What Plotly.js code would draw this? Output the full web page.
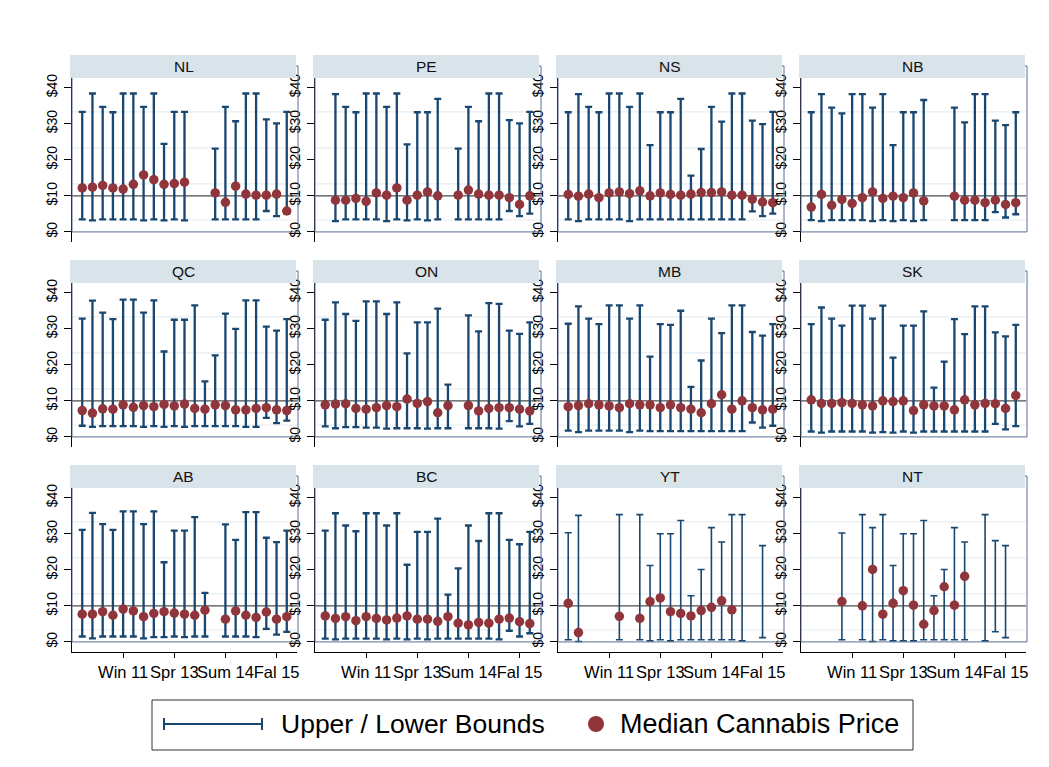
<!DOCTYPE html>
<html><head><meta charset="utf-8">
<script src="https://cdn.plot.ly/plotly-3.0.1.min.js"></script>
<style>html,body{margin:0;padding:0;background:#fff;}#chart{width:1049px;height:767px;}</style>
</head><body><div id="chart"></div>
<script>
const provinces = ["NL","PE","NS","NB","QC","ON","MB","SK","AB","BC","YT","NT"];
const periods = [1,2,3,4,5,6,7,8,9,10,11,12,13,14,15,16,17,18,19,20,21];
const tickPos = [5,10,15,20];
const tickLabels = ["Win 11","Spr 13","Sum 14","Fal 15"];
const yTickVals = [0,10,20,30,40];
const yTickText = ["$0","$10","$20","$30","$40"];
const refValue = 10;
const _ = null;

const nlUpper  = [33.3,38.4,34.7,33.2,38.4,38.4,34.7,38.4,24.4,33.3,33.3,_,_,23.1,34.7,30.7,38.4,38.4,31.2,30.1,33.3];
const nlLower  = [3.5,3.2,3.5,3.5,3.5,3.5,3.2,3.5,3.2,3.5,3.2,_,_,3.5,3.5,3.5,3.5,3.5,5.8,4.4,5.1];
const nlMedian = [12.2,12.4,12.9,12.2,11.9,13.2,15.8,14.5,13.2,13.4,13.8,_,_,10.8,8.2,12.7,10.5,10.2,10.2,10.5,5.8];

const peUpper  = [_,38.2,34.7,33.2,38.4,38.4,34.7,38.4,24.3,33.2,33.2,36.9,_,23.1,34.7,30.7,38.4,38.4,31.0,30.1,33.3];
const peLower  = [_,3.0,3.5,3.5,3.5,3.5,3.0,3.5,3.2,3.5,3.2,3.5,_,3.5,3.5,3.5,3.5,3.5,5.8,4.4,5.1];
const peMedian = [_,8.8,8.8,9.3,8.5,10.8,10.2,12.2,8.8,10.2,11.1,10.0,_,10.2,11.6,10.5,10.2,10.2,9.5,7.6,10.0];

const nsUpper  = [33.2,38.2,34.7,33.2,38.4,38.4,34.7,38.4,24.1,33.2,33.2,36.9,15.6,23.0,34.7,30.6,38.4,38.4,30.9,29.9,33.3];
const nsLower  = [3.5,3.0,3.5,3.5,3.5,3.5,3.0,3.5,3.5,3.5,3.5,3.5,3.5,3.5,3.5,3.5,3.5,3.5,5.7,4.4,5.1];
const nsMedian = [10.4,9.9,10.5,9.5,10.8,11.1,10.6,11.4,10.0,10.8,10.4,10.2,10.5,10.9,10.9,11.1,10.2,10.2,9.1,8.3,8.1];

const nbUpper  = [33.2,38.2,34.5,32.9,38.2,38.2,34.5,38.2,24.1,33.2,33.2,36.6,_,_,34.5,30.4,38.2,38.2,30.9,29.6,33.2];
const nbLower  = [3.25,3.0,3.25,3.25,3.25,3.25,3.0,3.25,3.0,3.25,3.0,3.25,_,_,3.25,3.25,3.25,3.25,5.5,4.0,4.9];
const nbMedian = [6.9,10.4,7.4,9.0,7.9,9.5,11.1,9.3,9.9,9.5,10.8,8.6,_,_,9.9,8.8,8.8,8.1,8.8,7.6,8.1];

const qcUpper  = [32.8,37.8,34.5,32.7,38.1,38.1,34.5,37.9,23.7,32.5,32.5,36.5,15.4,22.6,34.2,30.0,37.9,37.9,30.6,29.5,32.7];
const qcLower  = [3.1,2.8,3.0,3.0,3.0,3.0,2.8,3.0,2.8,3.0,2.8,3.0,3.0,3.0,3.0,3.0,2.8,2.8,5.3,3.8,4.5];
const qcMedian = [7.3,6.6,7.8,7.7,8.9,8.2,8.7,8.4,9.0,8.6,9.1,7.9,7.7,8.9,8.7,7.5,7.5,7.9,8.1,7.5,7.3];

const onUpper  = [32.5,37.3,34.1,32.2,37.6,37.6,34.1,37.3,23.2,31.8,31.8,35.6,14.5,_,33.7,29.3,37.1,36.9,29.5,28.6,31.8];
const onLower  = [2.9,2.4,2.7,2.7,2.6,2.6,2.3,2.4,2.4,2.4,2.3,2.4,2.4,_,2.4,2.4,2.4,2.3,4.4,2.9,3.6];
const onMedian = [8.9,9.1,9.2,7.9,7.7,8.1,8.7,8.4,10.5,9.3,9.8,6.7,8.7,_,8.7,7.2,7.9,8.1,8.1,7.7,7.2];

const mbUpper  = [31.4,36.2,32.8,31.3,36.5,36.5,32.8,36.5,22.3,31.3,31.1,35.0,13.9,21.2,32.8,28.8,36.5,36.5,29.1,28.1,31.3];
const mbLower  = [1.75,1.3,1.75,1.75,1.75,1.75,1.3,1.75,1.6,1.6,1.6,1.6,1.6,1.6,1.6,1.6,1.6,1.6,4.0,2.6,3.1];
const mbMedian = [8.4,8.7,9.2,8.9,8.6,8.1,9.2,8.9,8.9,8.1,8.9,8.1,7.7,6.7,9.2,11.7,7.7,10.0,8.1,7.5,7.7];

const skUpper  = [31.3,35.9,32.8,30.9,36.4,36.4,32.8,36.4,22.0,30.9,30.9,34.8,13.7,20.9,32.7,28.5,36.2,36.2,29.0,27.9,31.1];
const skLower  = [1.5,1.2,1.5,1.5,1.5,1.5,1.2,1.3,1.2,1.5,1.2,1.5,1.5,1.5,1.5,1.5,1.5,1.5,3.6,2.1,3.0];
const skMedian = [10.3,9.3,9.3,9.5,9.3,8.9,8.6,10.0,9.8,10.0,7.3,8.9,8.6,8.6,7.5,10.3,8.9,9.3,9.2,7.9,11.5];

const abUpper  = [31.1,35.8,32.7,31.1,36.2,36.2,32.7,36.2,22.1,30.9,30.9,34.6,13.6,_,32.6,28.3,36.0,36.0,28.9,27.7,30.9];
const abLower  = [1.5,1.0,1.5,1.5,1.5,1.5,1.0,1.3,1.3,1.5,1.3,1.5,1.5,_,1.5,1.5,1.5,1.3,3.6,2.0,2.8];
const abMedian = [7.7,7.7,8.4,7.4,9.1,8.6,7.0,7.9,8.4,8.0,7.7,7.4,8.8,_,6.3,8.6,7.4,6.8,8.3,6.3,7.0];

const bcUpper  = [30.9,35.7,32.3,30.7,35.7,35.7,32.3,35.7,21.4,30.5,30.5,34.2,13.1,20.4,32.3,28.0,35.7,35.7,28.3,27.1,30.5];
const bcLower  = [0.9,0.7,0.9,0.9,0.9,0.9,0.7,0.9,0.7,0.9,0.7,0.9,0.9,0.9,0.9,0.9,0.9,0.7,3.1,1.5,2.4];
const bcMedian = [7.2,6.5,7.0,5.9,7.0,6.5,6.1,6.6,7.2,6.3,6.3,5.7,7.0,5.2,4.7,5.4,5.2,6.3,6.6,5.6,5.1];

const ytUpper  = [30.3,35.1,_,_,_,35.3,_,35.3,21.2,30.0,30.0,33.7,12.8,20.1,31.7,27.7,35.3,35.3,_,26.7,_];
const ytLower  = [0.6,0.1,_,_,_,0.6,_,0.6,0.3,0.6,0.3,0.6,0.6,0.6,0.6,0.6,0.6,0.3,_,1.2,_];
const ytMedian = [10.7,2.6,_,_,_,7.1,_,6.5,11.2,12.2,8.4,7.9,7.2,8.7,9.6,11.4,8.9,_,_,_,_];

const ntUpper  = [_,_,_,30.2,_,35.3,31.7,35.3,21.2,30.0,30.0,33.7,12.8,20.1,31.7,27.7,_,35.3,28.1,26.7,_];
const ntLower  = [_,_,_,0.6,_,0.6,0.1,0.6,0.3,0.3,0.3,0.6,0.6,0.6,0.6,0.6,_,0.3,2.8,1.2,_];
const ntMedian = [_,_,_,11.2,_,10.0,20.1,7.7,10.7,14.2,10.2,4.9,8.7,15.3,10.2,18.2,_,_,_,_,_];

const upperSets  = [nlUpper,peUpper,nsUpper,nbUpper,qcUpper,onUpper,mbUpper,skUpper,abUpper,bcUpper,ytUpper,ntUpper];
const lowerSets  = [nlLower,peLower,nsLower,nbLower,qcLower,onLower,mbLower,skLower,abLower,bcLower,ytLower,ntLower];
const medianSets = [nlMedian,peMedian,nsMedian,nbMedian,qcMedian,onMedian,mbMedian,skMedian,abMedian,bcMedian,ytMedian,ntMedian];

// ---- styling / layout ----
const W = 1049, H = 767;
const NAVY = '#1a476f', MAROON = '#90353b';
const FONT = 'Liberation Sans, Arial, sans-serif';
const colLeft = [72, 315, 558, 801];
const panelW = 225;
const rowTop = [78, 283, 488];
const panelH = 164;
const yRange = [-2.8, 42.7];
const gridVals = [3.3, 13.3, 23.3, 33.3];
const px2x = p => p / W;
const px2y = p => 1 - p / H;
const pxPerUnit = panelH / (yRange[1] - yRange[0]);

const traces = [];
const layout = {
  width: W, height: H,
  margin: {l:0, r:0, t:0, b:0},
  paper_bgcolor: '#ffffff',
  plot_bgcolor: 'rgba(0,0,0,0)',
  showlegend: false,
  font: {family: FONT, color: '#000'},
  shapes: [], annotations: []
};

provinces.forEach((name, i) => {
  const r = Math.floor(i / 4), c = i % 4;
  const xa = i === 0 ? 'x' : 'x' + (i + 1);
  const ya = i === 0 ? 'y' : 'y' + (i + 1);
  const thin = (name === 'YT' || name === 'NT');
  const up = upperSets[i], lo = lowerSets[i], med = medianSets[i];

  traces.push({
    type: 'scatter', mode: 'markers', xaxis: xa, yaxis: ya,
    x: periods, y: lo,
    marker: {size: 1, opacity: 0},
    error_y: {type: 'data', symmetric: false,
      array: up.map((u, k) => (u === null || lo[k] === null) ? null : u - lo[k]),
      arrayminus: up.map(() => 0),
      color: NAVY, thickness: thin ? 1.6 : 2.3, width: 3.5},
    hoverinfo: 'skip'
  });
  traces.push({
    type: 'scatter', mode: 'markers', xaxis: xa, yaxis: ya,
    x: periods, y: med,
    marker: {size: 9.5, color: MAROON, line: {width: 0}},
    hoverinfo: 'skip'
  });

  const x0 = colLeft[c], x1 = colLeft[c] + panelW;
  const top = rowTop[r], bot = rowTop[r] + panelH;
  layout['xaxis' + (i === 0 ? '' : i + 1)] = {
    domain: [px2x(x0), px2x(x1)], anchor: ya, range: [0, 22],
    showgrid: false, zeroline: false,
    showline: r === 2, linecolor: '#000', linewidth: 1,
    ticks: r === 2 ? 'outside' : '', ticklen: 5, tickcolor: '#000',
    tickvals: tickPos, ticktext: tickLabels, tickangle: 0,
    showticklabels: r === 2, tickfont: {size: 16.5, family: FONT, color: '#000'}
  };
  layout['yaxis' + (i === 0 ? '' : i + 1)] = {
    domain: [px2y(bot), px2y(top)], anchor: xa, range: yRange,
    showgrid: false, zeroline: false,
    showline: true, linecolor: '#000', linewidth: 1,
    ticks: 'outside', ticklen: 7, tickcolor: '#000',
    tickvals: yTickVals, ticktext: yTickText, tickangle: -90,
    ticklabelstandoff: 1,
    tickfont: {size: 14, family: FONT, color: '#000'}
  };

  gridVals.forEach(g => layout.shapes.push({
    type: 'line', xref: xa + ' domain', yref: ya, x0: 0, x1: 1, y0: g, y1: g,
    line: {color: '#e6eef1', width: 1.2}, layer: 'below'
  }));
  layout.shapes.push({
    type: 'line', xref: xa + ' domain', yref: ya, x0: 0, x1: 1, y0: refValue, y1: refValue,
    line: {color: '#4d4d4d', width: 1.3}, layer: 'below'
  });
  // plot region frame
  const zeroPx = bot - (0 - yRange[0]) * pxPerUnit;
  layout.shapes.push({
    type: 'rect', xref: 'paper', yref: 'paper',
    x0: px2x(x0), x1: px2x(x1 + 1), y0: px2y(zeroPx), y1: px2y(top - 12),
    line: {color: '#5a6e92', width: 1}, fillcolor: 'rgba(0,0,0,0)', layer: 'above'
  });
  // strip
  layout.shapes.push({
    type: 'rect', xref: 'paper', yref: 'paper',
    x0: px2x(x0 - 2), x1: px2x(x0 + panelW - 1), y0: px2y(top), y1: px2y(top - 23),
    line: {width: 0}, fillcolor: '#d9e4ea', layer: 'above'
  });
  layout.annotations.push({
    xref: 'paper', yref: 'paper', x: px2x(x0 + panelW / 2 - 1), y: px2y(top - 11.5),
    text: name, showarrow: false, xanchor: 'center', yanchor: 'middle',
    font: {size: 15.5, family: FONT, color: '#111'}
  });
});

// legend (drawn manually)
const legY = 724;
layout.shapes.push({type: 'rect', xref: 'paper', yref: 'paper',
  x0: px2x(152), x1: px2x(913), y0: px2y(750), y1: px2y(700),
  line: {color: '#333', width: 1}, fillcolor: '#fff', layer: 'above'});
layout.shapes.push({type: 'line', xref: 'paper', yref: 'paper',
  x0: px2x(164), x1: px2x(262), y0: px2y(legY), y1: px2y(legY),
  line: {color: NAVY, width: 2}, layer: 'above'});
[164, 262].forEach(xx => layout.shapes.push({type: 'line', xref: 'paper', yref: 'paper',
  x0: px2x(xx), x1: px2x(xx), y0: px2y(legY - 6), y1: px2y(legY + 6),
  line: {color: NAVY, width: 2}, layer: 'above'}));
layout.shapes.push({type: 'circle', xref: 'paper', yref: 'paper',
  x0: px2x(588), x1: px2x(604), y0: px2y(legY - 8), y1: px2y(legY + 8),
  line: {width: 0}, fillcolor: MAROON, layer: 'above'});
layout.annotations.push({xref: 'paper', yref: 'paper', x: px2x(279), y: px2y(legY),
  text: 'Upper / Lower Bounds', showarrow: false, xanchor: 'left', yanchor: 'middle',
  font: {size: 26.5, family: FONT, color: '#000'}});
layout.annotations.push({xref: 'paper', yref: 'paper', x: px2x(618), y: px2y(legY),
  text: 'Median Cannabis Price', showarrow: false, xanchor: 'left', yanchor: 'middle',
  font: {size: 27, family: FONT, color: '#000'}});

Plotly.newPlot('chart', traces, layout, {displayModeBar: false, staticPlot: true});
</script></body></html>
